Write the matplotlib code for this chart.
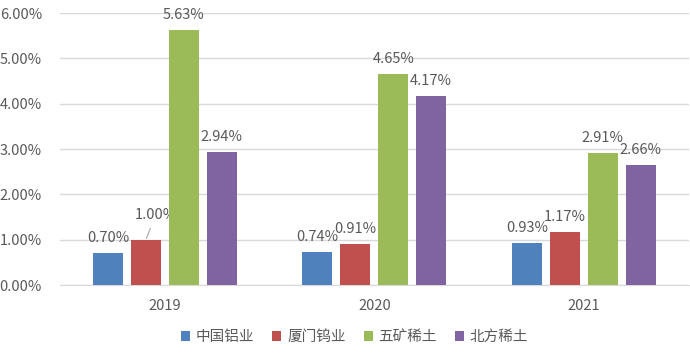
# 三家企业研发费用率对比柱状图
import numpy as np
import matplotlib
matplotlib.use("Agg")
import matplotlib.pyplot as plt
from matplotlib.patches import Patch

plt.rcParams['font.family'] = ['Noto Sans CJK SC', 'DejaVu Sans']

years = ["2019", "2020", "2021"]
companies = ["中国铝业", "厦门钨业", "五矿稀土", "北方稀土"]
zglv = [0.70, 0.74, 0.93]
xmwy = [1.00, 0.91, 1.17]
wkxt = [5.63, 4.65, 2.91]
bfxt = [2.94, 4.17, 2.66]
yticks = [0, 1, 2, 3, 4, 5, 6]

series = [zglv, xmwy, wkxt, bfxt]
colors = ["#4F81BD", "#C0504D", "#9BBB59", "#8064A2"]
c_text = "#595959"
c_grid = "#D9D9D9"

fig = plt.figure(figsize=(6.9, 3.55), dpi=100)
ax = fig.add_axes([0.087, 0.197, 0.911, 0.766])

x = np.arange(len(years))
w = 0.143
step = 0.181
for i, vals in enumerate(series):
    pos = x + (i - 1.5) * step
    ax.bar(pos, vals, width=w, color=colors[i], zorder=3)
    for j, v in enumerate(vals):
        if i == 1 and j == 0:
            # 2019 厦门钨业 标签带引线
            ax.annotate(f"{v:.2f}%", xy=(pos[j], v), xytext=(10, 25),
                        textcoords="offset pixels", ha="center", va="center",
                        fontsize=10.5, color=c_text,
                        arrowprops=dict(arrowstyle="-", color="#A6A6A6", lw=0.8,
                                        shrinkA=3, shrinkB=1))
        else:
            ax.annotate(f"{v:.2f}%", xy=(pos[j], v), xytext=(0, 15),
                        textcoords="offset pixels", ha="center", va="center",
                        fontsize=10.5, color=c_text)

ax.set_xlim(-0.5, 2.5)
ax.set_ylim(0, 6)
ax.set_yticks(yticks)
ax.set_yticklabels([f"{t:.2f}%" for t in yticks])
ax.set_xticks(x)
ax.set_xticklabels(years)
ax.yaxis.grid(True, color=c_grid, lw=1, zorder=0)
ax.tick_params(axis="both", length=0, colors=c_text, labelsize=10.5)
ax.tick_params(axis="x", pad=10)
ax.tick_params(axis="y", pad=13)
for s in ["top", "right", "left"]:
    ax.spines[s].set_visible(False)
ax.spines["bottom"].set_color(c_grid)

handles = [Patch(facecolor=c, edgecolor="none") for c in colors]
fig.legend(handles, companies, loc="center", bbox_to_anchor=(0.514, 0.05), ncol=4,
           frameon=False, fontsize=10.5, labelcolor=c_text, handlelength=0.6,
           handleheight=0.6, handletextpad=0.4, columnspacing=1.25)

fig.savefig("out.png", dpi=100, facecolor="white")
